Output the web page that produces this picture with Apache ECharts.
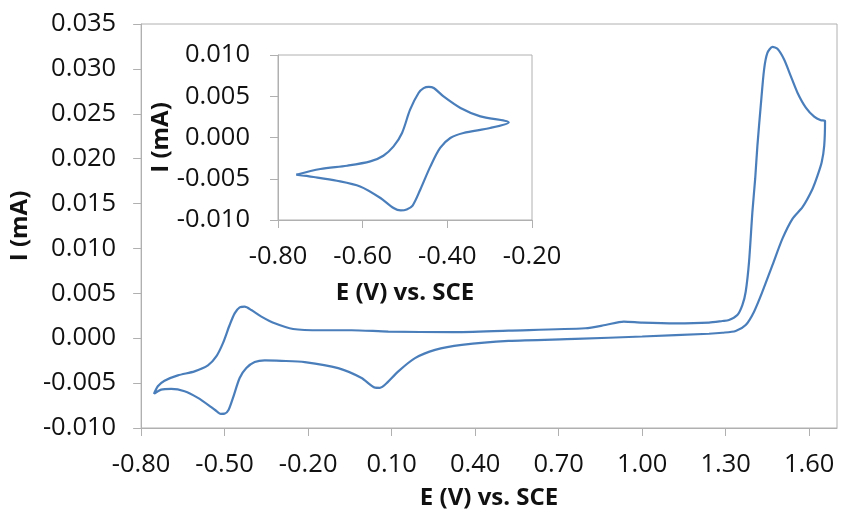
<!DOCTYPE html>
<html>
<head>
<meta charset="utf-8">
<script src="https://cdn.jsdelivr.net/npm/echarts@6/dist/echarts.min.js"></script>
<style>
html,body{margin:0;padding:0;background:#fff;}
#c{width:858px;height:515px;}
</style>
</head>
<body>
<div id="c"></div>
<script>
// Main cyclic voltammogram (traversal: left tip -> anodic branch -> right tip -> cathodic branch -> left tip)
const mainE = [-0.754,-0.740,-0.716,-0.668,-0.608,-0.560,-0.530,-0.506,-0.482,-0.464,-0.446,-0.428,-0.404,-0.368,-0.320,-0.254,-0.152,-0.044,0.088,0.316,0.520,0.796,0.868,0.934,1.000,1.120,1.240,1.288,1.312,1.342,1.360,1.372,1.384,1.396,1.406,1.414,1.426,1.438,1.450,1.468,1.486,1.510,1.534,1.558,1.588,1.618,1.642,1.657,
  1.654,1.645,1.630,1.612,1.576,1.540,1.504,1.468,1.432,1.402,1.372,1.336,1.288,1.240,1.000,0.760,0.520,0.352,0.256,0.184,0.124,0.076,0.058,0.040,-0.008,-0.092,-0.212,-0.296,-0.356,-0.392,-0.422,-0.446,-0.470,-0.486,-0.500,-0.514,-0.528,-0.548,-0.596,-0.644,-0.692,-0.728,-0.754];
const mainI = [-0.00621,-0.00535,-0.00473,-0.00414,-0.00369,-0.00303,-0.00203,-0.00055,0.00147,0.00277,0.00344,0.00351,0.00314,0.00241,0.00166,0.00103,0.00089,0.00089,0.00074,0.00067,0.00085,0.00111,0.00147,0.00185,0.00174,0.00166,0.00174,0.00192,0.00203,0.00258,0.00369,0.00518,0.00850,0.01405,0.01774,0.02143,0.02587,0.02993,0.03178,0.03245,0.03223,0.03104,0.02919,0.02735,0.02569,0.02469,0.02428,0.02420,
  0.02143,0.01959,0.01810,0.01663,0.01460,0.01330,0.01109,0.00813,0.00518,0.00296,0.00147,0.00081,0.00061,0.00050,0.00019,-0.00008,-0.00030,-0.00074,-0.00130,-0.00222,-0.00369,-0.00518,-0.00552,-0.00550,-0.00443,-0.00333,-0.00266,-0.00252,-0.00247,-0.00266,-0.00333,-0.00443,-0.00665,-0.00800,-0.00840,-0.00842,-0.00815,-0.00768,-0.00665,-0.00591,-0.00565,-0.00573,-0.00621];

// Inset voltammogram
const insetE = [-0.757,-0.700,-0.637,-0.582,-0.551,-0.527,-0.507,-0.488,-0.468,-0.456,-0.444,-0.432,-0.409,-0.369,-0.322,-0.255,
  -0.299,-0.362,-0.393,-0.417,-0.440,-0.464,-0.482,-0.496,-0.510,-0.527,-0.558,-0.606,-0.661,-0.716,-0.757];
const insetI = [-0.00451,-0.00382,-0.00342,-0.00290,-0.00221,-0.00108,0.00055,0.00337,0.00539,0.00598,0.00614,0.00600,0.00498,0.00358,0.00256,0.00183,
  0.00115,0.00055,-0.00006,-0.00127,-0.00350,-0.00633,-0.00825,-0.00872,-0.00884,-0.00855,-0.00733,-0.00593,-0.00524,-0.00479,-0.00451];

// Tick labels
const mainXTicks = [-0.8,-0.5,-0.2,0.1,0.4,0.7,1.0,1.3,1.6];
const mainYTicks = [-0.010,-0.005,0.000,0.005,0.010,0.015,0.020,0.025,0.030,0.035];
const insetXTicks = [-0.8,-0.6,-0.4,-0.2];
const insetYTicks = [-0.010,-0.005,0.000,0.005,0.010];

const FONT = 'Open Sans';
const AX = '#b0b0b0';
const LINE = '#4a7ebb';
const labelStyle = {color:'#111', fontFamily:FONT, fontSize:25.5};
const nameStyle = {color:'#111', fontFamily:FONT, fontSize:24, fontWeight:'bold'};

function xAx(idx, min, max, ticks, gap, margin){
  return {
    type:'value', gridIndex:idx, min:min, max:max,
    name:'E (V) vs. SCE', nameLocation:'middle', nameGap:gap, nameTextStyle:nameStyle,
    axisLine:{show:true, onZero:false, lineStyle:{color:AX, width:1}},
    axisTick:{show:true, length:8, customValues:ticks, lineStyle:{color:AX}},
    axisLabel:Object.assign({margin:margin, customValues:ticks, formatter:v=>(+v).toFixed(2)}, labelStyle),
    splitLine:{show:false}
  };
}
function yAx(idx, min, max, ticks, gap, margin){
  return {
    type:'value', gridIndex:idx, min:min, max:max,
    name:'I (mA)', nameLocation:'middle', nameGap:gap, nameRotate:90, nameTextStyle:nameStyle,
    axisLine:{show:true, onZero:false, lineStyle:{color:AX, width:1}},
    axisTick:{show:true, length:8, customValues:ticks, lineStyle:{color:AX}},
    axisLabel:Object.assign({margin:margin, customValues:ticks, formatter:v=>(+v).toFixed(3)}, labelStyle),
    splitLine:{show:false}
  };
}

const chart = echarts.init(document.getElementById('c'), null, {renderer:'canvas'});
chart.setOption({
  animation:false,
  backgroundColor:'#fff',
  grid:[
    {left:140, top:24, width:697, height:406, show:true, borderColor:AX, borderWidth:1, backgroundColor:'transparent'},
    {left:278, top:55, width:254, height:165, show:true, borderColor:AX, borderWidth:1, backgroundColor:'transparent'}
  ],
  xAxis:[ xAx(0,-0.8,1.7,mainXTicks,58,24), xAx(1,-0.8,-0.2,insetXTicks,61,24) ],
  yAxis:[ yAx(0,-0.010,0.035,mainYTicks,105,25), yAx(1,-0.010,0.010,insetYTicks,99,28) ],
  series:[
    {type:'line', xAxisIndex:0, yAxisIndex:0, data:mainE.map((e,i)=>[e,mainI[i]]),
     showSymbol:false, smooth:0.25, lineStyle:{color:LINE, width:2.2}, silent:true},
    {type:'line', xAxisIndex:1, yAxisIndex:1, data:insetE.map((e,i)=>[e,insetI[i]]),
     showSymbol:false, smooth:0.3, lineStyle:{color:LINE, width:2.2}, silent:true}
  ]
});
</script>
</body>
</html>
